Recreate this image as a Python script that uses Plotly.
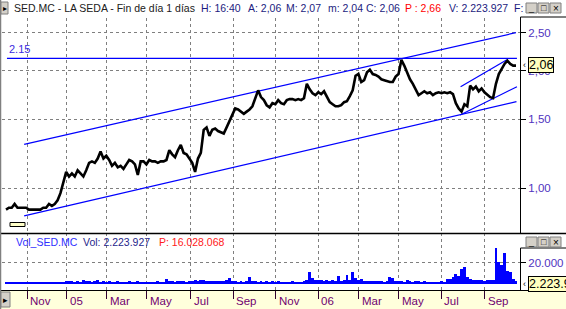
import numpy as np
import plotly.graph_objects as go

# ---------------- data ----------------
# closing prices, sampled every 3 trading sessions (Oct-2004 .. Oct-2006)
price = [
    0.88, 0.89, 0.89, 0.91, 0.89, 0.89, 0.89, 0.89, 0.88, 0.88,
    0.88, 0.88, 0.88, 0.89, 0.89, 0.91, 0.90, 0.91, 0.93, 0.97,
    1.03, 1.10, 1.07, 1.09, 1.07, 1.11, 1.09, 1.07, 1.11, 1.16,
    1.17, 1.16, 1.19, 1.24, 1.19, 1.21, 1.18, 1.14, 1.16, 1.13,
    1.14, 1.12, 1.15, 1.18, 1.17, 1.15, 1.08, 1.17, 1.17, 1.15,
    1.18, 1.17, 1.17, 1.16, 1.17, 1.17, 1.18, 1.25, 1.22, 1.20,
    1.25, 1.29, 1.23, 1.22, 1.19, 1.16, 1.10, 1.19, 1.23, 1.41,
    1.43, 1.36, 1.41, 1.42, 1.40, 1.39, 1.38, 1.43, 1.49, 1.55,
    1.60, 1.59, 1.57, 1.55, 1.57, 1.59, 1.62, 1.71, 1.78, 1.71,
    1.68, 1.63, 1.61, 1.65, 1.64, 1.68, 1.65, 1.64, 1.68, 1.69,
    1.69, 1.68, 1.69, 1.68, 1.70, 1.85, 1.79, 1.75, 1.73, 1.76,
    1.74, 1.77, 1.71, 1.66, 1.64, 1.62, 1.62, 1.63, 1.66, 1.67,
    1.72, 1.78, 1.94, 1.96, 1.87, 1.89, 1.98, 2.01, 1.96, 1.95,
    1.93, 1.90, 1.89, 1.88, 1.87, 1.87, 1.93, 1.96, 2.13, 2.06,
    1.98, 1.90, 1.85, 1.78, 1.73, 1.75, 1.77, 1.75, 1.76, 1.73,
    1.75, 1.76, 1.75, 1.76, 1.75, 1.76, 1.74, 1.65, 1.60, 1.57,
    1.64, 1.62, 1.83, 1.79, 1.82, 1.77, 1.80, 1.76, 1.73, 1.71,
    1.70, 1.85, 1.96, 2.02, 2.08, 2.12, 2.08, 2.06, 2.06,
]

# volume (thousands of shares), same sampling
volume = [
    1300, 1500, 1400, 1200, 1300, 1600, 1300, 1200, 1400, 1300,
    1500, 1300, 1400, 1700, 1500, 1600, 1400, 1800, 1700, 2200,
    1900, 2800, 2500, 3200, 2300, 2800, 2100, 3500, 2400, 2900,
    2200, 2600, 3400, 2300, 2800, 2000, 2500, 2200, 1900, 2400,
    2100, 2300, 1900, 2600, 2100, 2000, 2800, 2200, 1900, 2300,
    2000, 2100, 1800, 2400, 2000, 2200, 4800, 2900, 2500, 2300,
    3000, 2800, 2400, 2200, 3200, 2700, 3600, 2800, 3400, 3900,
    3100, 2600, 2900, 2400, 2700, 2500, 2800, 3300, 5200, 3000,
    2500, 2300, 2700, 2200, 2500, 7000, 2800, 2600, 2300, 2700,
    2200, 2500, 2300, 2800, 2100, 2400, 2200, 2000, 2300, 2200,
    2500, 2200, 2100, 2300, 2600, 3500, 11700, 5500, 4200, 3600,
    3800, 3200, 3600, 2900, 3400, 3000, 7800, 3200, 3600, 8800,
    3400, 11700, 5300, 3600, 4800, 2800, 3200, 2500, 3000, 2700,
    2500, 2800, 2300, 2600, 6300, 5800, 3000, 2500, 2800, 2300,
    3400, 2600, 2300, 2900, 2400, 2100, 2700, 2200, 2000, 1900,
    2300, 2100, 2500, 2300, 4800, 5000, 6500, 9700, 7800, 13900,
    16200, 6500, 4500, 3800, 4200, 3400, 3700, 3000, 3300, 4000,
    4000, 34000, 21000, 18000, 29000, 12000, 11400, 5000, 3200,
]

# drawn lines: (session index, price) end points
resist_x, resist_y = [1, 535], [2.15, 2.15]
chan_up_x, chan_up_y = [19, 534], [1.294, 2.502]
chan_lo_x, chan_lo_y = [19, 534.5], [0.848, 1.665]
short_up_x, short_up_y = [476, 524.5], [1.819, 2.133]
short_lo_x, short_lo_y = [475.5, 535], [1.539, 1.819]

# x-axis ticks (session index of first session of month)
tick_idx = [22, 63.6, 105.4, 147.6, 193.4, 238, 282.4, 326.7, 369.6, 411.2, 455.8, 501.3]
tick_lbl = ["Nov", "05", "Mar", "May", "Jul", "Sep", "Nov", "06", "Mar", "May", "Jul", "Sep"]

price_ticks = [1.0, 1.5, 2.0, 2.5]
price_tick_lbl = ["1,00", "1,50", "2,00", "2,50"]
vol_ticks = [20000]
vol_tick_lbl = ["20.000"]

step = 3
idx = np.arange(len(price)) * step

# ---------------- layout helpers ----------------
W, H = 566, 309
def px(x):
    return x / W
def py(y):
    return 1 - y / H

FONT = "Arial, Liberation Sans, sans-serif"
BLUE = "#0000FF"
AXTXT = "#5033C0"
GRID = "#7F7F7F"

fig = go.Figure()

# volume
fig.add_trace(go.Bar(x=idx, y=volume, width=step, marker=dict(color=BLUE, line=dict(width=0)),
                     yaxis="y2", xaxis="x", hoverinfo="skip"))

# lines
for xs, ys in [(resist_x, resist_y), (chan_up_x, chan_up_y), (chan_lo_x, chan_lo_y),
               (short_up_x, short_up_y), (short_lo_x, short_lo_y)]:
    fig.add_trace(go.Scatter(x=xs, y=ys, mode="lines", line=dict(color=BLUE, width=1.2),
                             yaxis="y", xaxis="x", hoverinfo="skip"))

# price
fig.add_trace(go.Scatter(x=idx, y=price, mode="lines", line=dict(color="black", width=2.6),
                         yaxis="y", xaxis="x", hoverinfo="skip"))

x_rng = [-4.2, 538.2]
fig.update_layout(
    width=W, height=H, margin=dict(l=0, r=0, t=0, b=0),
    paper_bgcolor="white", plot_bgcolor="white", showlegend=False,
    bargap=0,
    xaxis=dict(domain=[px(2), px(520)], range=x_rng, anchor="y2",
               tickvals=tick_idx, ticktext=[""] * len(tick_idx),
               ticks="outside", ticklen=8, tickwidth=1, tickcolor="#300030",
               showgrid=True, gridcolor=GRID, griddash="dot", gridwidth=1,
               showline=False, zeroline=False, fixedrange=True),
    yaxis=dict(domain=[py(233), py(18)], type="log",
               range=[(188 - 233) / 390, (188 - 18) / 390],
               side="right", anchor="x",
               tickvals=price_ticks, ticktext=price_tick_lbl,
               ticks="outside", ticklen=5, tickcolor="black",
               tickfont=dict(family=FONT, size=11.5, color=AXTXT),
               showgrid=True, gridcolor=GRID, griddash="dot", gridwidth=1,
               showline=False, zeroline=False),
    yaxis2=dict(domain=[py(290), py(233)], range=[-5634, 47900],
                side="right", anchor="x",
                tickvals=vol_ticks, ticktext=vol_tick_lbl,
                ticks="outside", ticklen=5, tickcolor="black",
                tickfont=dict(family=FONT, size=11.5, color=AXTXT),
                showgrid=True, gridcolor=GRID, griddash="dot", gridwidth=1,
                showline=False, zeroline=False),
)

shapes = []
# x-axis strip
shapes.append(dict(type="rect", xref="paper", yref="paper", x0=0, x1=1, y0=0, y1=py(290),
                   fillcolor="#FFFFDC", line=dict(width=0), layer="below"))
# frame lines
def hline(y, x0=0, x1=W, color="black", w=1):
    shapes.append(dict(type="line", xref="paper", yref="paper", x0=px(x0), x1=px(x1),
                       y0=py(y), y1=py(y), line=dict(color=color, width=w)))
def vline(x, y0, y1, color="black", w=1):
    shapes.append(dict(type="line", xref="paper", yref="paper", x0=px(x), x1=px(x),
                       y0=py(y0), y1=py(y1), line=dict(color=color, width=w)))
hline(290.5)
hline(233.5, w=1.3)
vline(520.5, 17, 233.5)
vline(520.5, 248, 290.5)
hline(248, 520.5, W)
hline(17, 520.5, W)
vline(0.5, 0, 309, color="#808080", w=1.5)
# small widget under price
shapes.append(dict(type="rect", xref="paper", yref="paper", x0=px(10), x1=px(25),
                   y0=py(226.5), y1=py(222.5), fillcolor="#FFFFC8", line=dict(color="black", width=1)))
# left buttons
shapes.append(dict(type="rect", xref="paper", yref="paper", x0=px(1), x1=px(8),
                   y0=py(14), y1=py(2), fillcolor="#D4D0C8", line=dict(color="#808080", width=1)))
shapes.append(dict(type="rect", xref="paper", yref="paper", x0=px(1), x1=px(10),
                   y0=py(307), y1=py(292), fillcolor="#D4D0C8", line=dict(color="#808080", width=1)))
# window buttons
for yb in (3, 237):
    for xb in (526, 538, 550):
        shapes.append(dict(type="rect", xref="paper", yref="paper", x0=px(xb), x1=px(xb + 11),
                           y0=py(yb + 10), y1=py(yb), fillcolor="#D4D0C8",
                           line=dict(color="#808080", width=1)))
fig.update_layout(shapes=shapes)

ann = []
def text(x, y, s, color="black", size=10.5, anchor="left", bg=None, border=None):
    d = dict(xref="paper", yref="paper", x=px(x), y=py(y), text=s, showarrow=False,
             xanchor=anchor, yanchor="middle", font=dict(family=FONT, size=size, color=color))
    if bg:
        d.update(bgcolor=bg, borderpad=0)
    if border:
        d.update(bordercolor=border, borderwidth=1)
    ann.append(d)

# title bar
NAVY = "#1C1C80"
text(12, 8, "SED.MC - LA SEDA - Fin de día 1 días", color="#202020")
text(199, 8, "H: 16:40", color=NAVY)
text(246, 8, "A: 2,06", color=NAVY)
text(284, 8, "M: 2,07", color=NAVY)
text(326, 8, "m: 2,04", color=NAVY)
text(364, 8, "C: 2,06", color=NAVY)
text(403, 8, "P : 2,66", color="#FF0000")
text(447, 8, "V: 2.223.927", color=NAVY)
text(512, 8, "F:", color=NAVY)
text(4.5, 8, "▸", size=8, anchor="center")
text(5.5, 299.5, "▸", size=9, anchor="center")
for yb in (3, 237):
    text(531.5, yb + 5, "_", size=9, anchor="center")
    text(543.5, yb + 5.5, "□", size=9, anchor="center")
    text(555.5, yb + 5.5, "×", size=10, anchor="center")

# resistance label (data coords)
ann.append(dict(xref="x", yref="y", x=1, y=np.log10(2.15), text="2.15", showarrow=False,
                xanchor="left", yanchor="bottom", yshift=1,
                font=dict(family=FONT, size=11, color="#3A2AE0")))

# x tick labels (left-aligned next to tick marks)
for v, s in zip(tick_idx, tick_lbl):
    ann.append(dict(xref="x", yref="paper", x=v, y=py(301), text=s, showarrow=False,
                    xanchor="left", yanchor="middle", xshift=1,
                    font=dict(family=FONT, size=11.5, color="#700070")))

# last value boxes
text(527.5, 65, "2,06", color="black", size=12.5, bg="#FFFFC0", border="black")
text(524, 65, "‹", size=9, anchor="center")
text(527.5, 284, "2.223.927", color="black", size=12.5, bg="#FFFFC0", border="black")
text(524, 284, "‹", size=9, anchor="center")

# volume title
text(14, 242, "Vol_SED.MC", color="#3030FF", size=10.5)
text(81, 242, "Vol: 2.223.927", color="#26268C", size=10.5)
text(157, 242, "P: 16.028.068", color="#FF2020", size=10.5)

fig.update_layout(annotations=ann)
fig.write_html("out.html")
